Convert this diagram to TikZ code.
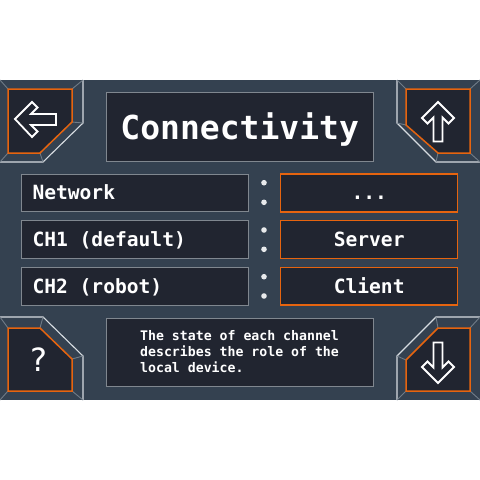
\documentclass[tikz,border=0pt]{standalone}
\usepackage{fontspec}
\setmonofont{DejaVu Sans Mono}
\newfontfamily\qfont{DejaVu Sans}
\definecolor{panel}{RGB}{52,65,80}
\definecolor{boxfill}{RGB}{33,37,48}
\definecolor{grayline}{RGB}{128,135,143}
\definecolor{orangeline}{RGB}{230,100,15}
\definecolor{frameline}{RGB}{215,220,225}
\definecolor{bevelline}{RGB}{112,124,136}
\definecolor{dotcol}{RGB}{232,234,236}
\tikzset{
  graybox/.style={draw=grayline, line width=1.1pt, fill=boxfill, inner sep=0pt, minimum width=226.6pt, minimum height=37.7pt},
  orangebox/.style={draw=orangeline, line width=1.5pt, fill=boxfill, inner sep=0pt, minimum width=177pt, minimum height=37.7pt},
  rowlabel/.style={text=white, inner sep=0pt, font=\ttfamily\bfseries\fontsize{19.6}{20}\selectfont},
  desclabel/.style={text=white, inner sep=0pt, anchor=base west, font=\ttfamily\bfseries\fontsize{13.2}{16}\selectfont},
  btninner/.style={fill=boxfill, draw=orangeline, line width=1.5pt, line join=miter},
  btnouter/.style={draw=frameline, line width=1.1pt},
  bevel/.style={draw=bevelline, line width=0.9pt},
  arrowicon/.style={draw=white, line width=1.8pt, line join=miter, fill=boxfill},
  dotmark/.style={circle, fill=dotcol, inner sep=0pt, minimum size=5.6pt}
}
\begin{document}
\begin{tikzpicture}[x=1pt, y=-1pt]
\useasboundingbox (0,0) rectangle (480,480);
\fill[white] (0,0) rectangle (480,480);
\fill[panel] (0,80) rectangle (480,400);

% top-left button
\draw[btnouter] (83,80) -- (83,123) -- (43,162) -- (0,162);
\draw[bevel] (0,80) -- (8,89) (83,80) -- (72,89) (83,123) -- (72,122) (43,162) -- (40,153) (0,162) -- (8,153);
\draw[btninner] (8,89) -- (72,89) -- (72,122) -- (40,153) -- (8,153) -- cycle;
\draw[arrowicon] (15,119) -- ++(17,-17) -- ++(5.5,5.5) -- ++(-6.5,6.5) -- ++(25,0) -- ++(0,11) -- ++(-25,0) -- ++(6.5,6.5) -- ++(-5.5,5.5) -- cycle;

% top-right button
\draw[btnouter] (397,80) -- (397,123) -- (436,162) -- (480,162);
\draw[bevel] (480,80) -- (470,89) (397,80) -- (406,89) (397,123) -- (406,125) (436,162) -- (438,153) (480,162) -- (470,153);
\draw[btninner] (470,89) -- (406,89) -- (406,125) -- (438,153) -- (470,153) -- cycle;
\draw[arrowicon] (438,102) -- ++(16,16) -- ++(-5.5,5.5) -- ++(-6,-6) -- ++(0,24) -- ++(-9,0) -- ++(0,-24) -- ++(-6,6) -- ++(-5.5,-5.5) -- cycle;

% bottom-left button
\draw[btnouter] (0,317) -- (43,317) -- (83,356) -- (83,400);
\draw[bevel] (0,317) -- (8,328) (43,317) -- (40,328) (83,356) -- (72,359) (83,400) -- (72,391) (0,400) -- (8,391);
\draw[btninner] (8,328) -- (40,328) -- (72,359) -- (72,391) -- (8,391) -- cycle;
\node[text=white, inner sep=0pt, font=\qfont\fontsize{32}{32}\selectfont] (qmark) at (38.5,360) {?};

% bottom-right button
\draw[btnouter] (480,317) -- (436,317) -- (397,356) -- (397,400);
\draw[bevel] (480,317) -- (470,328) (436,317) -- (438,328) (397,356) -- (406,360) (397,400) -- (406,391) (480,400) -- (470,391);
\draw[btninner] (470,328) -- (438,328) -- (406,360) -- (406,391) -- (470,391) -- cycle;
\draw[arrowicon] (438,383) -- ++(16,-16) -- ++(-5.5,-5.5) -- ++(-6,6) -- ++(0,-25) -- ++(-9,0) -- ++(0,25) -- ++(-6,-6) -- ++(-5.5,5.5) -- cycle;

% title
\node[draw=grayline, line width=1.1pt, fill=boxfill, inner sep=0pt, minimum width=267pt, minimum height=69pt] (titlebox) at (239.7,126.7) {};
\node[text=white, inner sep=0pt, anchor=base, font=\ttfamily\bfseries\fontsize{33}{33}\selectfont] (title) at (239.7,139) {Connectivity};

% rows
\node[graybox] (netbox) at (135,192.9) {};
\node[graybox] (ch1box) at (135,239.5) {};
\node[graybox] (ch2box) at (135,286.2) {};
\node[rowlabel, anchor=base west] (netlbl) at (32.3,199.7) {Network};
\node[rowlabel, anchor=base west] (ch1lbl) at (32.3,246.3) {CH1 (default)};
\node[rowlabel, anchor=base west] (ch2lbl) at (32.3,293) {CH2 (robot)};

\node[orangebox] (netval) at (369.2,192.9) {};
\node[orangebox] (ch1val) at (369.2,239.5) {};
\node[orangebox] (ch2val) at (369.2,286.2) {};
\node[rowlabel, anchor=base] (netvlbl) at (369.2,199.7) {...};
\node[rowlabel, anchor=base] (ch1vlbl) at (369.2,246.3) {Server};
\node[rowlabel, anchor=base] (ch2vlbl) at (369.2,293) {Client};

% dots
\node[dotmark] (d1a) at (264,182.7) {};
\node[dotmark] (d1b) at (264,202.3) {};
\node[dotmark] (d2a) at (264,230) {};
\node[dotmark] (d2b) at (264,249.3) {};
\node[dotmark] (d3a) at (264,276.7) {};
\node[dotmark] (d3b) at (264,296) {};

% description
\node[draw=grayline, line width=1.1pt, fill=boxfill, inner sep=0pt, minimum width=266.6pt, minimum height=68.4pt] (descbox) at (240,352.5) {};
\node[desclabel] (desc1) at (140,340) {The state of each channel};
\node[desclabel] (desc2) at (140,356.2) {describes the role of the};
\node[desclabel] (desc3) at (140,372.4) {local device.};
\end{tikzpicture}
\end{document}
